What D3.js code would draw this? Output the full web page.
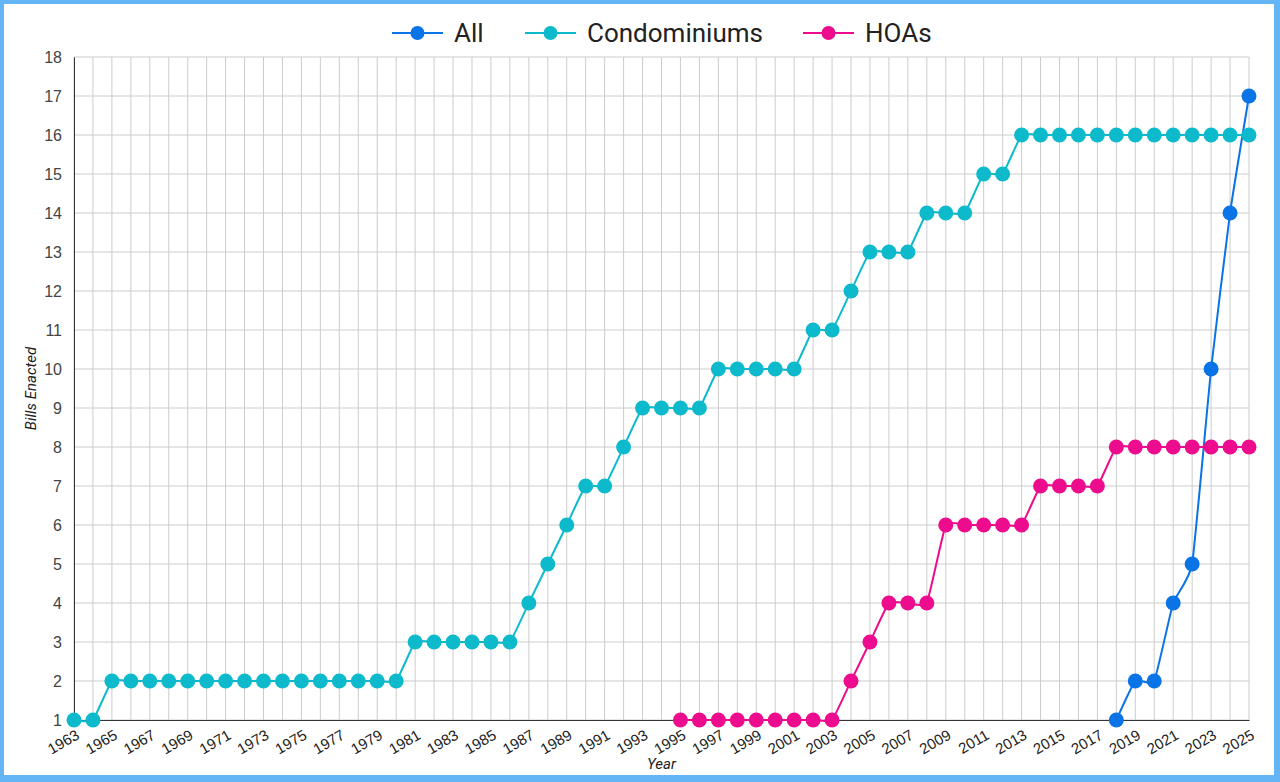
<!DOCTYPE html>
<html>
<head>
<meta charset="utf-8">
<script src="https://cdn.jsdelivr.net/npm/d3@7"></script>
<style>
  html, body { margin: 0; padding: 0; background: #64b5f6; }
  svg { display: block; font-family: Roboto, "Noto Sans", sans-serif; }
</style>
</head>
<body>
<svg id="chart"></svg>
<script>
const years = d3.range(1963, 2026);

// Cumulative bills enacted, by year
const condoYears = d3.range(1963, 2026);
const condoValues = [
  1, 1, 2, 2, 2, 2, 2, 2, 2, 2, 2, 2, 2, 2, 2, 2, 2, 2,   // 1963-1980
  3, 3, 3, 3, 3, 3,                                      // 1981-1986
  4, 5, 6, 7, 7, 8, 9, 9, 9, 9,                          // 1987-1996
  10, 10, 10, 10, 10, 11, 11, 12, 13, 13, 13,            // 1997-2007
  14, 14, 14, 15, 15,                                    // 2008-2012
  16, 16, 16, 16, 16, 16, 16, 16, 16, 16, 16, 16, 16     // 2013-2025
];

const hoaYears = d3.range(1995, 2026);
const hoaValues = [
  1, 1, 1, 1, 1, 1, 1, 1, 1,                             // 1995-2003
  2, 3, 4, 4, 4,                                         // 2004-2008
  6, 6, 6, 6, 6,                                         // 2009-2013
  7, 7, 7, 7,                                            // 2014-2017
  8, 8, 8, 8, 8, 8, 8, 8                                 // 2018-2025
];

const allYears = d3.range(2018, 2026);
const allValues = [1, 2, 2, 4, 5, 10, 14, 17];

const seriesNames = ['All', 'Condominiums', 'HOAs'];
const seriesColors = ['#0a73e6', '#0dbacb', '#ec0c8d'];

const yTicks = d3.range(1, 19);
const xTicks = d3.range(1963, 2026, 2);

const width = 1280;
const height = 782;
const margin = { top: 57, right: 31, bottom: 62, left: 74 };

const series = [
  { name: seriesNames[0], color: seriesColors[0], points: allYears.map((y, i) => ({ x: y, y: allValues[i] })) },
  { name: seriesNames[1], color: seriesColors[1], points: condoYears.map((y, i) => ({ x: y, y: condoValues[i] })) },
  { name: seriesNames[2], color: seriesColors[2], points: hoaYears.map((y, i) => ({ x: y, y: hoaValues[i] })) }
];

const svg = d3.select('#chart')
  .attr('width', width)
  .attr('height', height);

svg.append('rect')
  .attr('x', 4).attr('y', 4)
  .attr('width', width - 10).attr('height', height - 11)
  .attr('fill', '#fff');

const xScale = d3.scaleLinear()
  .domain([1963, 2025])
  .range([margin.left, width - margin.right]);

const yScale = d3.scaleLinear()
  .domain([1, 18])
  .range([height - margin.bottom, margin.top]);

// grid
const grid = svg.append('g').attr('class', 'grid');
grid.selectAll('.vgrid')
  .data(years)
  .enter().append('line')
  .attr('x1', d => xScale(d)).attr('x2', d => xScale(d))
  .attr('y1', yScale(18)).attr('y2', yScale(1))
  .attr('stroke', '#cccccc').attr('stroke-width', 1);
grid.selectAll('.hgrid')
  .data(yTicks)
  .enter().append('line')
  .attr('x1', xScale(1963)).attr('x2', xScale(2025))
  .attr('y1', d => yScale(d)).attr('y2', d => yScale(d))
  .attr('stroke', '#cccccc').attr('stroke-width', 1);

// axes
const yAxis = svg.append('g')
  .attr('transform', `translate(${margin.left}, 0)`)
  .call(d3.axisLeft(yScale).tickValues(yTicks).tickSize(0).tickPadding(12).tickFormat(d3.format('d')));
yAxis.select('.domain').attr('stroke', '#333');
yAxis.selectAll('text').attr('font-size', 16).attr('fill', '#444');

const xAxis = svg.append('g')
  .attr('transform', `translate(0, ${height - margin.bottom})`)
  .call(d3.axisBottom(xScale).tickValues(xTicks).tickSize(0).tickFormat(d3.format('d')));
xAxis.select('.domain').attr('stroke', '#333');
xAxis.selectAll('text')
  .attr('font-size', 15)
  .attr('fill', '#222')
  .attr('text-anchor', 'end')
  .attr('x', 0)
  .attr('y', 0)
  .attr('dy', 0)
  .attr('transform', 'translate(6, 18) rotate(-30)');

// axis titles
svg.append('text')
  .attr('x', (xScale(1963) + xScale(2025)) / 2)
  .attr('y', 769)
  .attr('text-anchor', 'middle')
  .attr('font-size', 15)
  .attr('font-style', 'italic')
  .attr('fill', '#222')
  .text('Year');

svg.append('text')
  .attr('transform', `translate(36, ${(yScale(1) + yScale(18)) / 2}) rotate(-90)`)
  .attr('text-anchor', 'middle')
  .attr('font-size', 15)
  .attr('font-style', 'italic')
  .attr('fill', '#222')
  .text('Bills Enacted');

// lines and points
const line = d3.line()
  .x(d => xScale(d.x))
  .y(d => yScale(d.y))
  .curve(d3.curveCardinal.tension(0.6));

const g = svg.append('g');
series.forEach(s => {
  g.append('path')
    .datum(s.points)
    .attr('fill', 'none')
    .attr('stroke', s.color)
    .attr('stroke-width', 2)
    .attr('d', line);
});
series.forEach(s => {
  g.selectAll(null)
    .data(s.points)
    .enter().append('circle')
    .attr('cx', d => xScale(d.x))
    .attr('cy', d => yScale(d.y))
    .attr('r', 7.5)
    .attr('fill', s.color);
});

// legend
const legendX = [392, 525, 803];
const legend = svg.append('g');
series.forEach((s, i) => {
  const lg = legend.append('g').attr('transform', `translate(${legendX[i]}, 33)`);
  lg.append('line').attr('x1', 0).attr('x2', 51).attr('y1', 0).attr('y2', 0)
    .attr('stroke', s.color).attr('stroke-width', 2);
  lg.append('circle').attr('cx', 25.5).attr('cy', 0).attr('r', 7).attr('fill', s.color);
  lg.append('text').attr('x', 62).attr('y', 0).attr('dy', '0.36em')
    .attr('font-size', 26).attr('fill', '#222').text(s.name);
});
</script>
</body>
</html>
